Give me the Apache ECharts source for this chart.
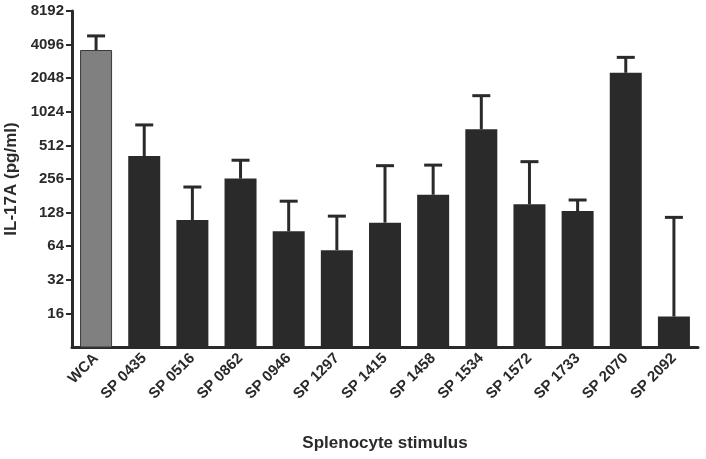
<!DOCTYPE html>
<html>
<head>
<meta charset="utf-8">
<script src="https://cdn.jsdelivr.net/npm/echarts@6/dist/echarts.min.js"></script>
<style>html,body{margin:0;padding:0;background:#fff}#c{width:706px;height:459px}</style>
</head>
<body>
<div id="c"></div>
<script>
const categories = ['WCA','SP 0435','SP 0516','SP 0862','SP 0946','SP 1297','SP 1415','SP 1458','SP 1534','SP 1572','SP 1733','SP 2070','SP 2092'];
const means = [3665, 411, 110, 258, 87, 59, 104, 185, 714, 152, 132, 2290, 15];
const upper = [4900, 781, 217, 377, 162, 119, 337, 341, 1428, 366, 166, 3148, 116];
const yTicks = [16, 32, 64, 128, 256, 512, 1024, 2048, 4096, 8192];

const dark = '#2a2a2a';
const chart = echarts.init(document.getElementById('c'));
const barData = means.map((v, i) => ({
  value: v,
  itemStyle: i === 0 ? { color: '#808080', borderColor: '#3a3a3a', borderWidth: 1 } : { color: dark }
}));
const errData = categories.map((c, i) => [i, means[i], upper[i]]);

chart.setOption({
  animation: false,
  grid: { left: 72, right: 8, top: 11, bottom: 112, containLabel: false, outerBoundsMode: 'none' },
  xAxis: {
    type: 'category',
    data: categories,
    axisLine: { lineStyle: { color: dark, width: 3 } },
    axisTick: { show: false },
    axisLabel: { rotate: 45, color: dark, fontFamily: 'Liberation Sans', fontWeight: 'bold', fontSize: 15, margin: 9, interval: 0 },
    name: 'Splenocyte stimulus',
    nameLocation: 'middle',
    nameGap: 88,
    nameTextStyle: { color: dark, fontFamily: 'Liberation Sans', fontWeight: 'bold', fontSize: 17 }
  },
  yAxis: {
    type: 'log',
    logBase: 2,
    min: 8,
    max: 8192,
    interval: 1,
    splitLine: { show: false },
    axisLine: { show: true, lineStyle: { color: dark, width: 3 } },
    axisTick: { show: true, length: 6, lineStyle: { color: dark, width: 2 }, customValues: yTicks },
    axisLabel: {
      color: dark, fontFamily: 'Liberation Sans', fontWeight: 'bold', fontSize: 15, margin: 8,
      customValues: yTicks,
      formatter: v => String(Math.round(v))
    },
    name: 'IL-17A (pg/ml)',
    nameLocation: 'middle',
    nameGap: 47,
    nameRotate: 90,
    nameTextStyle: { color: dark, fontFamily: 'Liberation Sans', fontWeight: 'bold', fontSize: 17 }
  },
  series: [
    {
      type: 'bar',
      data: barData,
      barWidth: 32,
      z: 2
    },
    {
      type: 'custom',
      data: errData,
      z: 3,
      renderItem: function (params, api) {
        const x = api.value(0);
        const top = api.coord([x, api.value(2)]);
        const base = api.coord([x, api.value(1)]);
        const half = 9;
        return {
          type: 'group',
          children: [
            { type: 'line', shape: { x1: top[0], y1: top[1], x2: base[0], y2: base[1] }, style: { stroke: dark, lineWidth: 3 } },
            { type: 'line', shape: { x1: top[0] - half, y1: top[1], x2: top[0] + half, y2: top[1] }, style: { stroke: dark, lineWidth: 3 } }
          ]
        };
      }
    }
  ]
});
</script>
</body>
</html>
